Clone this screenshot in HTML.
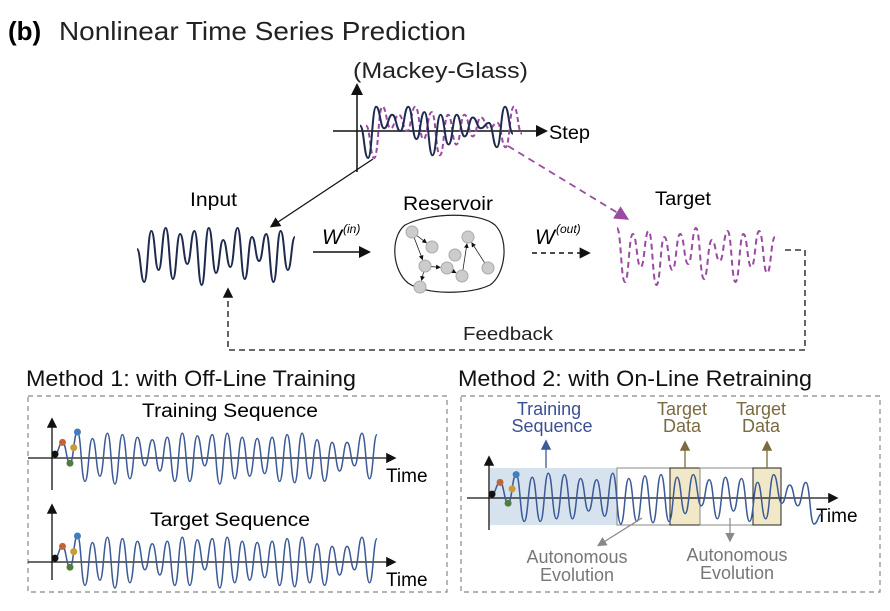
<!DOCTYPE html>
<html><head><meta charset="utf-8"><style>
body{margin:0;background:#fff;width:890px;height:606px;overflow:hidden}
svg text{font-family:"Liberation Sans",sans-serif}
</style></head><body>
<svg id="s" width="890" height="606" viewBox="0 0 890 606" xmlns="http://www.w3.org/2000/svg">
<defs>
<marker id="ak" markerWidth="8" markerHeight="8" refX="6" refY="4" orient="auto"><path d="M0,0 L8,4 L0,8Z" fill="#111"/></marker>
<marker id="as" markerWidth="6" markerHeight="6" refX="5" refY="3" orient="auto"><path d="M0,0 L6,3 L0,6Z" fill="#111"/></marker>
<marker id="ap" markerWidth="8" markerHeight="8" refX="6" refY="4" orient="auto"><path d="M0,0 L8,4 L0,8Z" fill="#9b4aa3"/></marker>
<marker id="ab" markerWidth="8" markerHeight="8" refX="6" refY="4" orient="auto"><path d="M0,0 L8,4 L0,8Z" fill="#3b5a96"/></marker>
<marker id="at" markerWidth="8" markerHeight="8" refX="6" refY="4" orient="auto"><path d="M0,0 L8,4 L0,8Z" fill="#7a6a3f"/></marker>
<marker id="ag" markerWidth="8" markerHeight="8" refX="6" refY="4" orient="auto"><path d="M0,0 L8,4 L0,8Z" fill="#888"/></marker>
</defs>
<text x="8" y="40" font-size="26" font-weight="bold">(b)</text>
<text x="59" y="40" font-size="26" fill="#222" textLength="407" lengthAdjust="spacingAndGlyphs">Nonlinear Time Series Prediction</text>
<text x="353" y="78" font-size="22" fill="#222" textLength="175" lengthAdjust="spacingAndGlyphs">(Mackey-Glass)</text>
<line x1="357" y1="172" x2="357" y2="86" stroke="#111" stroke-width="1.5" marker-end="url(#ak)"/>
<line x1="333" y1="131" x2="545" y2="131" stroke="#111" stroke-width="1.5" marker-end="url(#ak)"/>
<text x="549" y="139" font-size="19" textLength="41" lengthAdjust="spacingAndGlyphs">Step</text>
<line x1="373" y1="159" x2="272" y2="226" stroke="#111" stroke-width="1.3" marker-end="url(#ak)"/>
<g id="topwaves"></g>
<line x1="508" y1="146" x2="626" y2="218" stroke="#9b4aa3" stroke-width="1.8" stroke-dasharray="7,5" marker-end="url(#ap)"/>
<text x="190" y="206" font-size="19" textLength="47" lengthAdjust="spacingAndGlyphs">Input</text>
<g id="inwave"></g>
<text x="322" y="244" font-size="21" font-style="italic" font-family="Liberation Serif">W</text>
<text x="343" y="233" font-size="12" font-style="italic" font-family="Liberation Serif">(in)</text>
<line x1="313" y1="252" x2="368" y2="252" stroke="#111" stroke-width="1.5" marker-end="url(#ak)"/>
<text x="403" y="210" font-size="19" textLength="90" lengthAdjust="spacingAndGlyphs">Reservoir</text>
<path d="M405,225 C430,212 480,212 495,225 C510,240 505,275 490,285 C470,295 425,295 408,283 C392,270 390,237 405,225Z" fill="#fff" stroke="#222" stroke-width="1.2"/>
<g id="edges"></g>
<g id="nodes"></g>
<text x="535" y="244" font-size="21" font-style="italic" font-family="Liberation Serif">W</text>
<text x="556" y="233" font-size="12" font-style="italic" font-family="Liberation Serif">(out)</text>
<line x1="532" y1="253" x2="588" y2="253" stroke="#111" stroke-width="1.4" stroke-dasharray="5,4" marker-end="url(#ak)"/>
<text x="655" y="205" font-size="19" textLength="56" lengthAdjust="spacingAndGlyphs">Target</text>
<g id="tgwave"></g>
<path d="M785,250 L805,250 L805,350 L228,350 L228,290" fill="none" stroke="#111" stroke-width="1.3" stroke-dasharray="6,4" marker-end="url(#ak)"/>
<text x="463" y="340" font-size="18" fill="#222" textLength="90" lengthAdjust="spacingAndGlyphs">Feedback</text>

<text x="26" y="386" font-size="22" fill="#111" textLength="330" lengthAdjust="spacingAndGlyphs">Method 1: with Off-Line Training</text>
<rect x="28" y="396" width="419" height="196" fill="none" stroke="#888" stroke-width="1.2" stroke-dasharray="5,4"/>
<text x="142" y="417" font-size="19" textLength="176" lengthAdjust="spacingAndGlyphs">Training Sequence</text>
<line x1="52" y1="490" x2="52" y2="420" stroke="#111" stroke-width="1.3" marker-end="url(#ak)"/>
<line x1="28" y1="458" x2="394" y2="458" stroke="#111" stroke-width="1.3" marker-end="url(#ak)"/>
<text x="386" y="482" font-size="19">Time</text>
<text x="150" y="526" font-size="19" textLength="160" lengthAdjust="spacingAndGlyphs">Target Sequence</text>
<line x1="52" y1="580" x2="52" y2="506" stroke="#111" stroke-width="1.3" marker-end="url(#ak)"/>
<line x1="28" y1="562" x2="394" y2="562" stroke="#111" stroke-width="1.3" marker-end="url(#ak)"/>
<text x="386" y="586" font-size="19">Time</text>
<g id="m1"></g>

<text x="458" y="386" font-size="22" fill="#111" textLength="354" lengthAdjust="spacingAndGlyphs">Method 2: with On-Line Retraining</text>
<rect x="461" y="396" width="419" height="196" fill="none" stroke="#888" stroke-width="1.2" stroke-dasharray="5,4"/>
<rect x="490" y="468" width="127" height="57" fill="#d6e2ee"/>
<rect x="617" y="468" width="53" height="57" fill="#fff" stroke="#888"/>
<rect x="670" y="468" width="30" height="57" fill="#f1e8c8" stroke="#222"/>
<rect x="700" y="468" width="53" height="57" fill="#fff" stroke="#888"/>
<rect x="753" y="468" width="28" height="57" fill="#f1e8c8" stroke="#222"/>
<line x1="489" y1="530" x2="489" y2="458" stroke="#111" stroke-width="1.3" marker-end="url(#ak)"/>
<line x1="467" y1="498" x2="836" y2="498" stroke="#111" stroke-width="1.3" marker-end="url(#ak)"/>
<text x="816" y="522" font-size="19">Time</text>
<g id="m2"></g>
<text x="549" y="415" font-size="18" fill="#3b4f96" text-anchor="middle">Training</text>
<text x="552" y="432" font-size="18" fill="#3b4f96" text-anchor="middle">Sequence</text>
<line x1="546" y1="468" x2="546" y2="442" stroke="#3b5a96" stroke-width="1.3" marker-end="url(#ab)"/>
<text x="682" y="415" font-size="18" fill="#7a6a3f" text-anchor="middle">Target</text>
<text x="682" y="432" font-size="18" fill="#7a6a3f" text-anchor="middle">Data</text>
<line x1="685" y1="468" x2="685" y2="443" stroke="#7a6a3f" stroke-width="1.3" marker-end="url(#at)"/>
<text x="761" y="415" font-size="18" fill="#7a6a3f" text-anchor="middle">Target</text>
<text x="761" y="432" font-size="18" fill="#7a6a3f" text-anchor="middle">Data</text>
<line x1="767" y1="468" x2="767" y2="443" stroke="#7a6a3f" stroke-width="1.3" marker-end="url(#at)"/>
<line x1="642" y1="518" x2="599" y2="545" stroke="#888" stroke-width="1.2" marker-end="url(#ag)"/>
<line x1="730" y1="518" x2="730" y2="540" stroke="#888" stroke-width="1.2" marker-end="url(#ag)"/>
<text x="577" y="563" font-size="18" fill="#777" text-anchor="middle">Autonomous</text>
<text x="577" y="581" font-size="18" fill="#777" text-anchor="middle">Evolution</text>
<text x="737" y="561" font-size="18" fill="#777" text-anchor="middle">Autonomous</text>
<text x="737" y="579" font-size="18" fill="#777" text-anchor="middle">Evolution</text>
</svg>
<script>
// series extremes (normalized -1..1), alternating peaks/troughs
const mgSeries=[0.2,-1,0.9,0.1,0.6,0.0,0.9,-0.3,0.7,-0.9,0.6,-0.5,0.6,-0.2,0.5,0.1,0.3,-0.6,0.9,-0.1];
const inputSeries=[0.2,-0.9,0.8,-0.5,0.9,-0.8,0.7,-0.3,0.8,-1,0.9,-0.6,0.5,-0.4,0.9,-0.8,0.6,-0.2,0.7,-0.9,0.8,-0.5,0.6];
const targetSeries=[0.9,-0.9,0.7,-0.4,0.8,-1,0.6,-0.5,0.7,-0.3,0.9,-0.8,0.5,-0.2,0.8,-0.9,0.7,-0.4,0.8,-0.6,0.6];
const m1Series=[0.15,0.6,-0.2,1,-0.9,0.75,-0.7,0.95,-1,0.9,-0.8,0.8,-0.3,0.7,-0.5,0.8,-0.9,0.95,-0.9,0.85,-0.3,0.9,-1,0.95,-0.8,0.8,-0.7,0.75,-0.6,0.8,-0.9,0.9,-0.95,0.95,-0.8,0.7,-0.9,0.6,-0.5,0.6,-0.3,0.95,-0.8,0.9];
const m2Series=[0.15,0.6,-0.2,0.9,-0.9,0.8,-0.9,0.95,-0.8,0.9,-0.8,0.75,-0.5,0.7,-0.7,0.95,-1,0.75,-0.9,0.85,-0.95,0.9,-0.9,0.8,-0.6,0.9,-0.3,0.7,-0.8,0.8,-0.5,0.75,-0.9,0.6,-0.8,0.9,-0.2,0.5,-0.3,0.6,-1,-0.6];
const NS="http://www.w3.org/2000/svg";
function wave(vals,x0,x1,yc,amp){
  const dx=(x1-x0)/(vals.length-1);let d="";
  vals.forEach((v,i)=>{const x=x0+i*dx,y=yc-v*amp;
    if(i==0)d+="M"+x+","+y;else{const px=x0+(i-1)*dx,py=yc-vals[i-1]*amp;d+=" C"+(px+dx/2)+","+py+" "+(x-dx/2)+","+y+" "+x+","+y;}});
  return d;}
function addPath(g,d,stroke,w,dash,name){const p=document.createElementNS(NS,"path");p.setAttribute("d",d);p.setAttribute("fill","none");p.setAttribute("stroke",stroke);p.setAttribute("stroke-width",w);if(dash)p.setAttribute("stroke-dasharray",dash);


document.getElementById(g).appendChild(p);}
addPath("topwaves",wave(mgSeries,366,522,131,27),"#9b4aa3",2,"5,3","mackey-glass-target-wave");
addPath("topwaves",wave(mgSeries,360,513,131,27),"#1f2a4f",2,null,"mackey-glass-input-wave");
addPath("inwave",wave(inputSeries,137,295,255,30),"#1f2a4f",2,null,"input-wave");
addPath("tgwave",wave(targetSeries,617,775,255,30),"#9b4aa3",2,"6,4","target-wave");
addPath("m1",wave(m1Series,55,377,458,26),"#3b5a96",1.5,null,"training-sequence-wave");
addPath("m1",wave(m1Series,55,377,562,26),"#3b5a96",1.5,null,"target-sequence-wave");
addPath("m2",wave(m2Series,492,822,498,26),"#3b5a96",1.5,null,"method2-wave");
const dotColors=["#111","#c2643a","#4f7d3c","#c89a3a","#3f7fbf"];
const dotIdx=[0,1,2,2.5,3];
function dots(g,vals,x0,x1,yc,amp){const dx=(x1-x0)/(vals.length-1);dotColors.forEach((c,i)=>{const k=dotIdx[i];const v=Number.isInteger(k)?vals[k]:(vals[Math.floor(k)]+vals[Math.ceil(k)])/2;const e=document.createElementNS(NS,"circle");e.setAttribute("cx",x0+k*dx);e.setAttribute("cy",yc-v*amp);e.setAttribute("r",3.5);e.setAttribute("fill",c);


document.getElementById(g).appendChild(e);});}
dots("m1",m1Series,55,377,458,26);dots("m1",m1Series,55,377,562,26);dots("m2",m2Series,492,822,498,26);
const nodes=[[412,232],[432,247],[425,266],[447,268],[420,287],[462,276],[468,237],[455,255],[488,268]];
const edges=[[0,1],[0,2],[2,3],[2,4],[3,5],[5,6],[8,6]];
edges.forEach(e=>{const a=nodes[e[0]],b=nodes[e[1]];const l=document.createElementNS(NS,"line");const dx=b[0]-a[0],dy=b[1]-a[1],L=Math.hypot(dx,dy);
l.setAttribute("x1",a[0]+dx/L*6);l.setAttribute("y1",a[1]+dy/L*6);l.setAttribute("x2",b[0]-dx/L*7);l.setAttribute("y2",b[1]-dy/L*7);l.setAttribute("stroke","#222");l.setAttribute("stroke-width","0.8");l.setAttribute("marker-end","url(#as)");


document.getElementById("edges").appendChild(l);});
nodes.forEach(n=>{const e=document.createElementNS(NS,"circle");e.setAttribute("cx",n[0]);e.setAttribute("cy",n[1]);e.setAttribute("r",6);e.setAttribute("fill","#ccc");e.setAttribute("stroke","#aaa");


document.getElementById("nodes").appendChild(e);});
</script>
</body></html>
